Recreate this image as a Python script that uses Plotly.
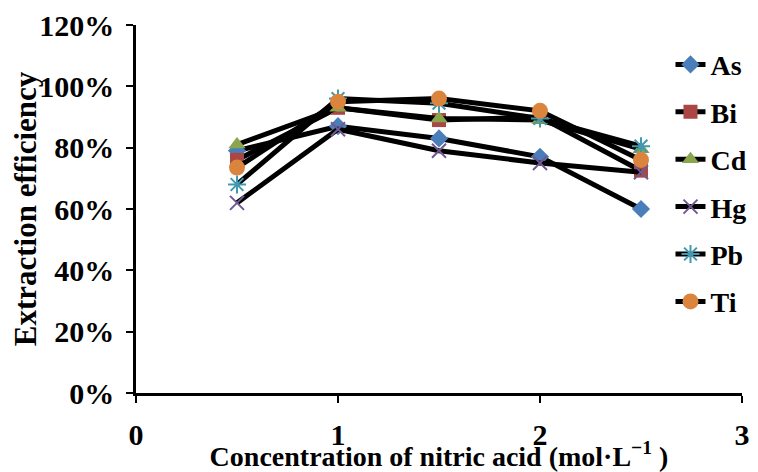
import plotly.graph_objects as go

x_conc = [0.5, 1.0, 1.5, 2.0, 2.5]
series_names = ["As", "Bi", "Cd", "Hg", "Pb", "Ti"]
as_vals = [0.79, 0.87, 0.83, 0.77, 0.60]
bi_vals = [0.76, 0.93, 0.89, 0.90, 0.725]
cd_vals = [0.81, 0.93, 0.895, 0.89, 0.795]
hg_vals = [0.62, 0.86, 0.79, 0.75, 0.72]
pb_vals = [0.68, 0.96, 0.945, 0.895, 0.805]
ti_vals = [0.735, 0.95, 0.96, 0.92, 0.76]
y_ticks = [0, 0.2, 0.4, 0.6, 0.8, 1.0, 1.2]
y_tick_text = ["0%", "20%", "40%", "60%", "80%", "100%", "120%"]
x_ticks = [0, 1, 2, 3]

values = [as_vals, bi_vals, cd_vals, hg_vals, pb_vals, ti_vals]
colors = ["#4A7EBB", "#AA4643", "#89A54E", "#71588F", "#4198AF", "#DB843D"]
symbols = ["diamond", "square", "triangle-up", "x-thin-open", "asterisk-open", "circle"]
sizes = [14, 14, 15, 14, 15, 16]

FONT = "Liberation Serif"
fig = go.Figure()
for i, (name, vals) in enumerate(zip(series_names, values)):
    marker = dict(symbol=symbols[i], size=sizes[i], color=colors[i])
    if "open" in symbols[i]:
        marker["line"] = dict(color=colors[i], width=2)
    else:
        marker["line"] = dict(width=0)
    fig.add_trace(go.Scatter(
        x=x_conc, y=vals, name=name, mode="lines+markers",
        line=dict(color="black", width=5),
        marker=marker, legendgroup=name,
    ))

fig.update_layout(
    width=750, height=464,
    margin=dict(l=128, r=16, t=17, b=79, autoexpand=False),
    paper_bgcolor="white", plot_bgcolor="white",
    font=dict(family=FONT, color="black", size=20),
    showlegend=True,
    legend=dict(x=0.882, y=0.96, xanchor="left", yanchor="top",
                font=dict(family=FONT, size=28, color="black", weight="bold"),
                bgcolor="rgba(0,0,0,0)", tracegroupgap=8,
                itemwidth=30),
    xaxis=dict(range=[0, 3], tickvals=x_ticks, showgrid=False, zeroline=False,
               automargin=False,
               showline=True, linecolor="black", linewidth=2.5,
               ticks="outside", ticklen=7, tickwidth=2, tickcolor="black",
               ticklabelstandoff=6,
               tickfont=dict(family=FONT, size=30, weight="bold"),
               title=dict(text="Concentration of nitric acid (mol·L<sup>−1</sup> )",
                          font=dict(family=FONT, size=28, weight="bold"), standoff=6)),
    yaxis=dict(range=[0, 1.2], tickvals=y_ticks, ticktext=y_tick_text,
               showgrid=False, zeroline=False, automargin=False,
               showline=True, linecolor="black", linewidth=2.5,
               ticks="outside", ticklen=7, tickwidth=2, tickcolor="black",
               ticklabelstandoff=6,
               tickfont=dict(family=FONT, size=30, weight="bold"),
               title=dict(text="Extraction efficiency",
                          font=dict(family=FONT, size=31, weight="bold"), standoff=0)),
)

fig.write_html("out.html")
